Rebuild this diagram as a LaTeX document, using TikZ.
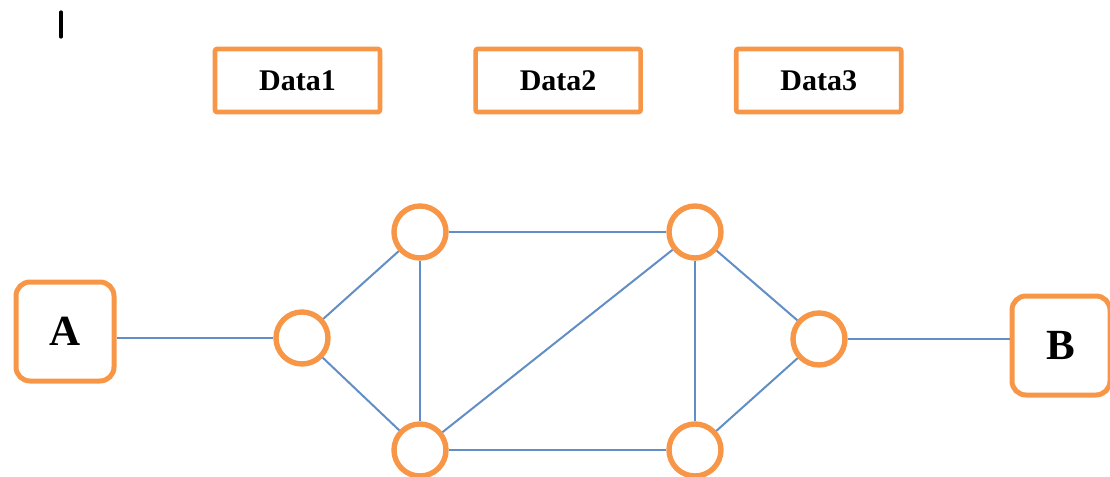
\documentclass[tikz,border=0pt]{standalone}
\usepackage{fontspec}
\setmainfont{Liberation Serif}
\usetikzlibrary{positioning}
\definecolor{boxorange}{HTML}{F79646}
\definecolor{linkblue}{HTML}{4F81BD}

\begin{document}
\begin{tikzpicture}[
  x=0.5pt, y=-0.5pt,
  node distance=45.5pt and 45.5pt,
  databox/.style={draw=boxorange, line width=2.3pt, rounded corners=1pt,
                  minimum width=82.5pt, minimum height=31.5pt, inner sep=0pt,
                  font=\bfseries\fontsize{15}{18}\selectfont},
  hostbox/.style={draw=boxorange, line width=2.5pt, rounded corners=7pt,
                  minimum width=49pt, minimum height=49.5pt, inner sep=0pt,
                  font=\bfseries\fontsize{21.5}{24}\selectfont},
  router/.style={circle, draw=boxorange, line width=2.7pt,
                 minimum size=26pt, inner sep=0pt},
  link/.style={draw=linkblue!90, line width=1pt}]
\useasboundingbox (0,0) rectangle (1110,477);
% cursor mark
\draw[line width=1.6pt, line cap=round] (61,12) -- (61,37);
% data boxes
\node[databox] (D1) at (297.5,80.5) {Data1};
\node[databox, right=of D1] (D2) {Data2};
\node[databox, right=of D2] (D3) {Data3};
% end hosts
\node[hostbox] (A) at (65,331.5) {A};
\node[hostbox] (B) at (1061,345.5) {B};
% routers
\node[router] (r1) at (302,338) {};
\node[router] (r2) at (420,232) {};
\node[router] (r3) at (420,450) {};
\node[router] (r4) at (695,232) {};
\node[router] (r5) at (695,450) {};
\node[router] (r6) at (819,339) {};
% links
\draw[link] (r1.west -| A.east) -- (r1.west);
\draw[link] (r1) -- (r2);
\draw[link] (r1) -- (r3);
\draw[link] (r2) -- (r3);
\draw[link] (r2) -- (r4);
\draw[link] (r3) -- (r4);
\draw[link] (r3) -- (r5);
\draw[link] (r4) -- (r5);
\draw[link] (r4) -- (r6);
\draw[link] (r5) -- (r6);
\draw[link] (r6.east) -- (r6.east -| B.west);
\end{tikzpicture}
\end{document}
